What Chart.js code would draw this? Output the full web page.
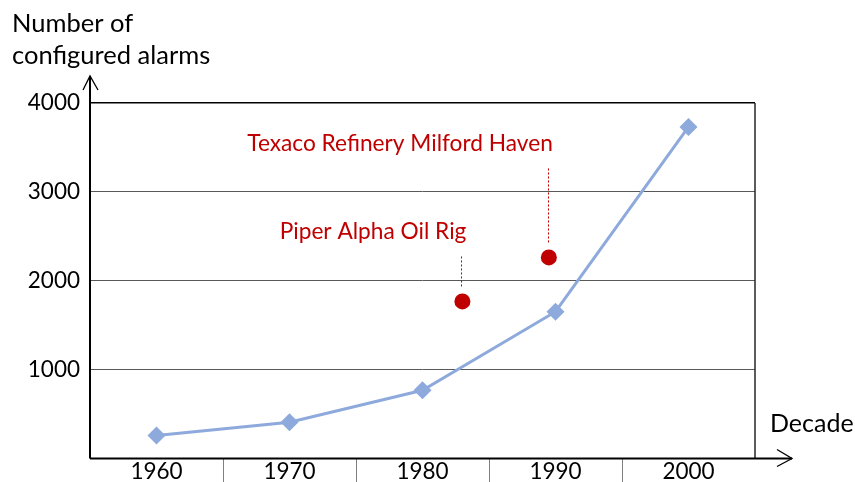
<!DOCTYPE html>
<html><head><meta charset="utf-8">
<script src="https://cdn.jsdelivr.net/npm/chart.js@4.4.0/dist/chart.umd.min.js"></script>
<style>html,body{margin:0;padding:0;background:#fff;}#wrap{width:855px;height:482px;}</style>
</head><body><div id="wrap"><canvas id="c" width="855" height="482"></canvas></div>
<script>
// ---- data ----
const decades = ['1960', '1970', '1980', '1990', '2000'];
const alarms = [258, 408, 767, 1652, 3730];
const yTickValues = [1000, 2000, 3000, 4000];
const incidentNames = ['Piper Alpha Oil Rig', 'Texaco Refinery Milford Haven'];
const incidentDecadePos = [2.30, 2.95];
const incidentAlarms = [1767, 2262];
const yTitleLines = ['Number of', 'configured alarms'];
const xTitle = 'Decade';

const FONT = 'Lato, "Liberation Sans", sans-serif';
const LINE_COLOR = '#8EA9DB';
const RED = '#C00000';

const decor = {
  id: 'decor',
  beforeDatasetsDraw(chart) {
    const ctx = chart.ctx, a = chart.chartArea, xs = chart.scales.x;
    ctx.save();
    ctx.strokeStyle = '#262626'; ctx.lineWidth = 1.5;
    ctx.beginPath(); ctx.moveTo(a.right, a.top); ctx.lineTo(a.right, a.bottom); ctx.stroke();
    ctx.strokeStyle = '#7f7f7f'; ctx.lineWidth = 1;
    for (let i = 0; i < decades.length - 1; i++) {
      const px = Math.round(xs.getPixelForValue(i + 0.5)) + 0.5;
      ctx.beginPath(); ctx.moveTo(px, a.bottom); ctx.lineTo(px, chart.height); ctx.stroke();
    }
    ctx.restore();
  },
  afterDatasetsDraw(chart) {
    const ctx = chart.ctx, a = chart.chartArea, xs = chart.scales.x, ys = chart.scales.y;
    ctx.save();
    ctx.strokeStyle = '#000'; ctx.lineWidth = 2;
    ctx.beginPath(); ctx.moveTo(a.left, a.bottom); ctx.lineTo(a.left, a.top - 27); ctx.stroke();
    ctx.lineWidth = 1.3;
    ctx.beginPath(); ctx.moveTo(a.left - 7, a.top - 13); ctx.lineTo(a.left, a.top - 27); ctx.lineTo(a.left + 8, a.top - 13); ctx.stroke();
    ctx.lineWidth = 2;
    ctx.beginPath(); ctx.moveTo(a.left, a.bottom); ctx.lineTo(a.right + 37, a.bottom); ctx.stroke();
    ctx.lineWidth = 1.3;
    ctx.beginPath(); ctx.moveTo(a.right + 22, a.bottom - 9); ctx.lineTo(a.right + 37, a.bottom); ctx.lineTo(a.right + 22, a.bottom + 8); ctx.stroke();
    ctx.fillStyle = '#000'; ctx.font = '25.5px ' + FONT; ctx.textAlign = 'left'; ctx.textBaseline = 'alphabetic';
    ctx.fillText(yTitleLines[0], 12, 32);
    ctx.fillText(yTitleLines[1], 12, 64);
    ctx.font = '25px ' + FONT;
    ctx.fillText(xTitle, a.right + 15, 432);
    const labelRise = [62, 106];
    ctx.font = '22.7px ' + FONT; ctx.textAlign = 'right';
    for (let i = 0; i < incidentNames.length; i++) {
      const px = xs.getPixelForValue(incidentDecadePos[i]);
      const py = ys.getPixelForValue(incidentAlarms[i]);
      const base = py - labelRise[i];
      ctx.fillStyle = RED;
      ctx.fillText(incidentNames[i], px + 4, base);
      ctx.strokeStyle = RED; ctx.lineWidth = 1; ctx.setLineDash([2, 2]);
      ctx.beginPath(); ctx.moveTo(Math.round(px) - 0.5, base + 17); ctx.lineTo(Math.round(px) - 0.5, py - 14); ctx.stroke();
      ctx.setLineDash([]);
    }
    ctx.restore();
  }
};

new Chart(document.getElementById('c'), {
  data: {
    datasets: [
      {
        type: 'line',
        data: decades.map((d, i) => ({ x: i, y: alarms[i] })),
        borderColor: LINE_COLOR, borderWidth: 3, tension: 0,
        pointStyle: 'rectRot', pointRadius: 9, pointBackgroundColor: LINE_COLOR, pointBorderWidth: 0,
        order: 2
      },
      {
        type: 'scatter',
        data: incidentNames.map((n, i) => ({ x: incidentDecadePos[i], y: incidentAlarms[i] })),
        pointRadius: 8, backgroundColor: RED, pointBorderWidth: 0, borderWidth: 0,
        order: 1
      }
    ]
  },
  options: {
    responsive: false, animation: false, devicePixelRatio: 1,
    layout: { padding: { top: 103, right: 100, left: 0, bottom: 0 } },
    plugins: { legend: { display: false }, tooltip: { enabled: false } },
    scales: {
      x: {
        type: 'linear', min: -0.5, max: 4.5, position: 'bottom',
        afterFit: s => { s.height = 23; },
        afterBuildTicks: s => { s.ticks = decades.map((d, i) => ({ value: i })); },
        grid: { display: false, drawTicks: false },
        border: { display: false },
        ticks: { callback: v => decades[v], color: '#000', font: { family: FONT, size: 22.5 }, padding: 0, maxRotation: 0, autoSkip: false }
      },
      y: {
        type: 'linear', min: 0, max: 4000,
        afterFit: s => { s.width = 90; },
        afterBuildTicks: s => { s.ticks = yTickValues.map(v => ({ value: v })); },
        grid: { drawTicks: false, color: c => (c.tick && c.tick.value === 4000) ? '#000' : '#595959', lineWidth: c => (c.tick && c.tick.value === 4000) ? 1.5 : 1 },
        border: { display: false },
        ticks: { callback: v => String(v), color: '#000', font: { family: FONT, size: 22.5 }, padding: 10 }
      }
    }
  },
  plugins: [decor]
});
</script></body></html>
